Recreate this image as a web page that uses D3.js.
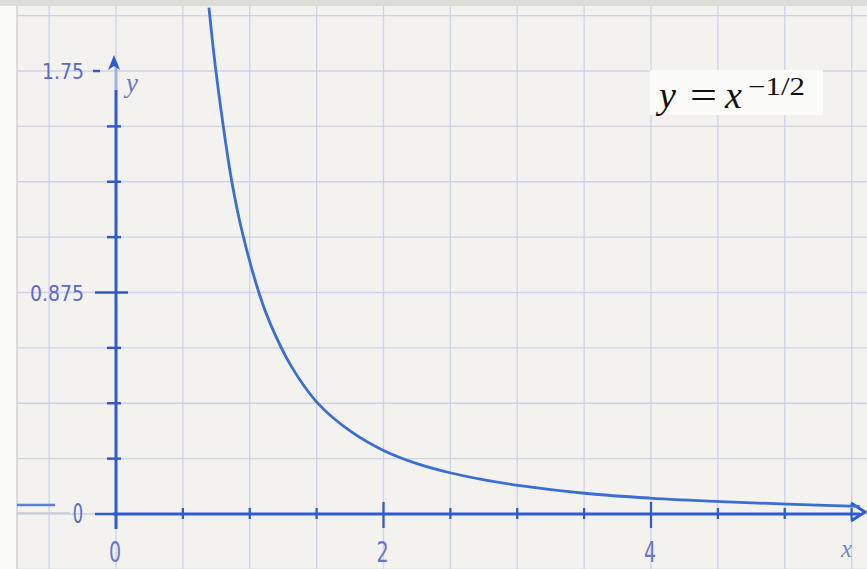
<!DOCTYPE html>
<html>
<head>
<meta charset="utf-8">
<script src="https://cdn.jsdelivr.net/npm/d3@7"></script>
<style>
  body { margin: 0; background: #fafaf8; }
  svg { display: block; }
</style>
</head>
<body>
<div id="chart"></div>
<script>

// points
const curveX = [0.695, 0.74, 0.80, 0.867, 0.95, 1.077, 1.151, 1.301, 1.503, 1.75, 1.996, 2.25, 2.497, 2.744, 3.02, 3.52, 3.99, 4.52, 5.02, 5.56];
const curveY = [2.0, 1.78, 1.54, 1.31, 1.10, 0.86, 0.755, 0.592, 0.441, 0.328, 0.252, 0.199, 0.163, 0.136, 0.112, 0.081, 0.063, 0.049, 0.039, 0.030];

const xTickValues = [0, 2, 4];
const xTickLabels = ['0', '2', '4'];
const yTickValues = [0, 0.875, 1.75];
const yTickLabels = ['0', '0.875', '1.75'];

const xStep = 0.5;       // grid square width
const yStep = 0.21875;   // grid square height

const width = 867, height = 569;

let x = d3.scaleLinear().domain([0, 4]).range([116, 651]);
let y = d3.scaleLinear().domain([0, 1.75]).range([514, 71]);

let svg = d3.select('#chart').append('svg')
    .attr('width', width)
    .attr('height', height);

// paper
svg.append('rect')
    .attr('x', 17).attr('y', 6)
    .attr('width', width - 17).attr('height', height - 6)
    .attr('fill', '#f3f2ee');
svg.append('rect')
    .attr('x', 0).attr('y', 0)
    .attr('width', width).attr('height', 6)
    .attr('fill', '#dcdcd8');
svg.append('line')
    .attr('x1', 17).attr('x2', 17)
    .attr('y1', 6).attr('y2', height)
    .attr('stroke', '#d2d2d0').attr('stroke-width', 1.5);

// grid
let gridX = d3.range(-1, 12).map(i => i * xStep);
let gridY = d3.range(-1, 10).map(i => i * yStep);

let grid = svg.append('g').attr('class', 'grid');
grid.selectAll('.gx')
    .data(gridX)
    .enter().append('line')
    .attr('x1', d => x(d)).attr('x2', d => x(d))
    .attr('y1', 6).attr('y2', height)
    .attr('stroke', '#cdd2ea').attr('stroke-width', 1.3);
grid.selectAll('.gy')
    .data(gridY)
    .enter().append('line')
    .attr('x1', 17).attr('x2', width)
    .attr('y1', d => y(d)).attr('y2', d => y(d))
    .attr('stroke', '#cdd2ea').attr('stroke-width', 1.3);

// formula box
svg.append('rect')
    .attr('x', 650).attr('y', 70)
    .attr('width', 173).attr('height', 45)
    .attr('fill', '#fbfbf9');

let axisColor = '#2f5bcf';

// small marks at the left of the 0 line
svg.append('line')
    .attr('x1', 17).attr('x2', 55).attr('y1', 505).attr('y2', 505)
    .attr('stroke', '#5d7fd6').attr('stroke-width', 2.5);
svg.append('line')
    .attr('x1', 17).attr('x2', 70).attr('y1', 513).attr('y2', 513)
    .attr('stroke', '#c9c9cf').attr('stroke-width', 1.5);

// y axis
svg.append('line')
    .attr('x1', x(0)).attr('x2', x(0))
    .attr('y1', 529).attr('y2', 90)
    .attr('stroke', axisColor).attr('stroke-width', 3);
svg.append('line')
    .attr('x1', x(0)).attr('x2', x(0))
    .attr('y1', 90).attr('y2', 62)
    .attr('stroke', '#9fb2e6').attr('stroke-width', 3);
svg.append('path')
    .attr('d', 'M0,0 L-6,15 L0,11 L6,15 Z')
    .attr('transform', `translate(${x(0) - 2},55)`)
    .attr('fill', axisColor);

svg.selectAll('.ytick')
    .data(gridY.filter(d => d > 0 && d < 1.7 && d !== 0.875))
    .enter().append('line')
    .attr('x1', x(0) - 9).attr('x2', x(0) + 5)
    .attr('y1', d => y(d)).attr('y2', d => y(d))
    .attr('stroke', axisColor).attr('stroke-width', 2.5);

// dashes next to the labelled values
svg.selectAll('.ydash')
    .data(yTickValues)
    .enter().append('line')
    .attr('x1', d => d === 1.75 ? 93 : 95)
    .attr('x2', d => d === 1.75 ? 100 : (d === 0.875 ? 128 : x(0)))
    .attr('y1', d => y(d)).attr('y2', d => y(d))
    .attr('stroke', axisColor).attr('stroke-width', 2.5);

svg.selectAll('.ylabel')
    .data(yTickValues)
    .enter().append('text')
    .attr('text-anchor', 'end')
    .attr('font-family', 'DejaVu Sans')
    .attr('font-size', (d, i) => i === 0 ? 26 : 21)
    .attr('fill', '#5d6cc6')
    .attr('transform', (d, i) => i === 0
        ? `translate(83,${y(d) + 9}) scale(0.62,1)`
        : `translate(84,${y(d) + 8}) scale(0.9,1)`)
    .text((d, i) => yTickLabels[i]);

// x axis
svg.append('line')
    .attr('x1', x(0) - 3).attr('x2', 860)
    .attr('y1', y(0)).attr('y2', y(0))
    .attr('stroke', axisColor).attr('stroke-width', 3);
svg.append('path')
    .attr('d', 'M-14,-9 L0,0 L-14,9')
    .attr('transform', `translate(865,${y(0) - 2})`)
    .attr('fill', 'none')
    .attr('stroke', axisColor).attr('stroke-width', 3);

svg.selectAll('.xtick')
    .data(gridX.filter(d => d > 0 && d < 5.7))
    .enter().append('line')
    .attr('x1', d => x(d)).attr('x2', d => x(d))
    .attr('y1', d => xTickValues.includes(d) ? 502 : 508)
    .attr('y2', d => xTickValues.includes(d) ? 528 : 519)
    .attr('stroke', axisColor).attr('stroke-width', 2.3);

svg.selectAll('.xlabel')
    .data(xTickValues)
    .enter().append('text')
    .attr('text-anchor', 'middle')
    .attr('font-family', 'DejaVu Sans')
    .attr('font-size', 28)
    .attr('fill', '#6577cc')
    .attr('transform', d => `translate(${x(d) - 1},562) scale(0.68,1)`)
    .text((d, i) => xTickLabels[i]);

// axis names
svg.append('text')
    .attr('x', 126).attr('y', 92)
    .attr('font-family', 'Liberation Serif')
    .attr('font-style', 'italic')
    .attr('font-size', 27)
    .attr('fill', '#6a78c8')
    .text('y');
svg.append('text')
    .attr('x', 841).attr('y', 557)
    .attr('font-family', 'Liberation Serif')
    .attr('font-style', 'italic')
    .attr('font-size', 25)
    .attr('fill', '#7488d2')
    .text('x');

// the curve
let line = d3.line()
    .x(d => x(d[0]))
    .y(d => y(d[1]))
    .curve(d3.curveCatmullRom.alpha(0.5));

svg.append('path')
    .datum(d3.zip(curveX, curveY))
    .attr('d', line)
    .attr('fill', 'none')
    .attr('stroke', '#3a6ed2')
    .attr('stroke-width', 2.8);

// formula
let f = svg.append('g')
    .attr('font-family', 'Liberation Serif')
    .attr('fill', '#111');
f.append('text')
    .attr('x', 659).attr('y', 108)
    .attr('font-style', 'italic').attr('font-size', 38)
    .text('y');
f.append('text')
    .attr('x', 690).attr('y', 108)
    .attr('font-size', 38)
    .attr('textLength', 27).attr('lengthAdjust', 'spacingAndGlyphs')
    .text('=');
f.append('text')
    .attr('x', 725).attr('y', 108)
    .attr('font-style', 'italic').attr('font-size', 38)
    .text('x');
f.append('text')
    .attr('x', 748).attr('y', 95)
    .attr('font-size', 25)
    .attr('textLength', 57).attr('lengthAdjust', 'spacingAndGlyphs')
    .text('\u22121/2');

</script>
</body>
</html>
